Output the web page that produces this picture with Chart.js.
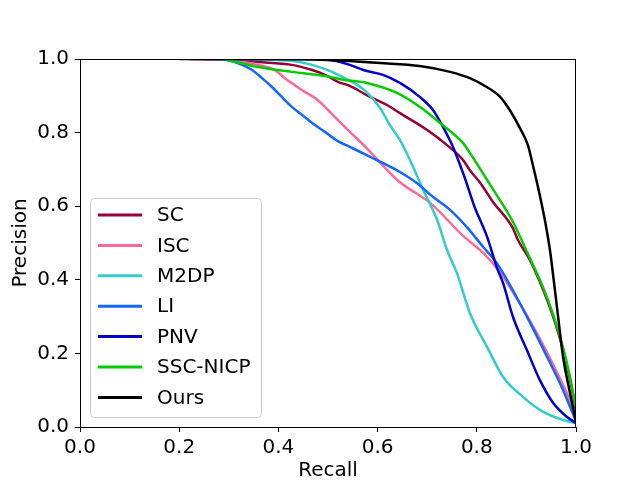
<!DOCTYPE html>
<html>
<head>
<meta charset="utf-8">
<script src="https://cdn.jsdelivr.net/npm/chart.js@4.4.0/dist/chart.umd.min.js"></script>
<style>
  html, body { margin: 0; padding: 0; background: #ffffff; }
  canvas { display: block; }
</style>
</head>
<body>
<canvas id="c" width="640" height="480"></canvas>
<script>
// ---- Data ----
const seriesNames = ['SC', 'ISC', 'M2DP', 'LI', 'PNV', 'SSC-NICP', 'Ours'];
const seriesColors = ['#990033', '#FF6699', '#33CCCC', '#1166FF', '#0000CC', '#00CC00', '#000000'];

const scRecall    = [0.22, 0.30, 0.359, 0.427, 0.468, 0.494, 0.52, 0.544, 0.578, 0.619, 0.645, 0.70, 0.74, 0.772, 0.786, 0.806, 0.833, 0.873, 0.883, 0.907, 0.934, 0.954, 0.974, 0.988, 1.0];
const scPrecision = [1.0, 0.998, 0.992, 0.984, 0.970, 0.957, 0.938, 0.927, 0.902, 0.875, 0.853, 0.807, 0.766, 0.726, 0.698, 0.665, 0.611, 0.540, 0.508, 0.454, 0.372, 0.299, 0.209, 0.128, 0.046];

const iscRecall    = [0.25, 0.30, 0.359, 0.393, 0.413, 0.433, 0.454, 0.474, 0.494, 0.514, 0.544, 0.578, 0.611, 0.645, 0.706, 0.772, 0.813, 0.847, 0.887, 0.927, 0.961, 0.988, 1.0];
const iscPrecision = [1.0, 0.997, 0.984, 0.970, 0.948, 0.929, 0.910, 0.894, 0.870, 0.842, 0.802, 0.758, 0.710, 0.665, 0.609, 0.520, 0.473, 0.420, 0.335, 0.240, 0.150, 0.070, 0.014];

const m2dpRecall    = [0.30, 0.40, 0.427, 0.468, 0.508, 0.534, 0.556, 0.578, 0.605, 0.625, 0.645, 0.665, 0.692, 0.72, 0.74, 0.76, 0.786, 0.821, 0.853, 0.893, 0.934, 0.974, 1.0];
const m2dpPrecision = [1.0, 0.997, 0.995, 0.984, 0.965, 0.948, 0.932, 0.910, 0.867, 0.820, 0.780, 0.726, 0.644, 0.563, 0.481, 0.418, 0.310, 0.217, 0.136, 0.082, 0.041, 0.019, 0.010];

const liRecall    = [0.25, 0.292, 0.327, 0.347, 0.367, 0.387, 0.407, 0.427, 0.448, 0.468, 0.494, 0.52, 0.544, 0.578, 0.611, 0.645, 0.679, 0.712, 0.746, 0.78, 0.813, 0.84, 0.861, 0.901, 0.942, 0.974, 1.0];
const liPrecision = [1.0, 0.998, 0.984, 0.970, 0.948, 0.924, 0.897, 0.870, 0.848, 0.826, 0.802, 0.777, 0.761, 0.739, 0.717, 0.693, 0.663, 0.625, 0.590, 0.543, 0.489, 0.446, 0.400, 0.300, 0.190, 0.100, 0.015];

const pnvRecall    = [0.30, 0.444, 0.504, 0.544, 0.571, 0.611, 0.645, 0.685, 0.712, 0.732, 0.752, 0.775, 0.795, 0.821, 0.84, 0.853, 0.873, 0.901, 0.927, 0.954, 0.982, 1.0];
const pnvPrecision = [1.0, 1.0, 0.997, 0.984, 0.970, 0.957, 0.935, 0.897, 0.861, 0.815, 0.761, 0.680, 0.600, 0.516, 0.435, 0.391, 0.299, 0.209, 0.128, 0.065, 0.027, 0.011];

const sscRecall    = [0.29, 0.359, 0.427, 0.494, 0.534, 0.578, 0.639, 0.685, 0.726, 0.772, 0.786, 0.827, 0.873, 0.901, 0.934, 0.954, 0.974, 0.988, 1.0];
const sscPrecision = [1.0, 0.978, 0.965, 0.954, 0.943, 0.935, 0.908, 0.870, 0.826, 0.772, 0.745, 0.658, 0.557, 0.476, 0.378, 0.305, 0.215, 0.135, 0.050];

const oursRecall    = [0.20, 0.40, 0.50, 0.605, 0.685, 0.746, 0.786, 0.82, 0.847, 0.867, 0.887, 0.903, 0.913, 0.927, 0.938, 0.948, 0.955, 0.963, 0.974, 0.988, 1.0];
const oursPrecision = [1.0, 1.0, 0.997, 0.989, 0.981, 0.965, 0.948, 0.924, 0.897, 0.860, 0.812, 0.766, 0.712, 0.630, 0.557, 0.476, 0.400, 0.310, 0.190, 0.092, 0.014];

const xTickLabels = ['0.0', '0.2', '0.4', '0.6', '0.8', '1.0'];
const yTickLabels = ['0.0', '0.2', '0.4', '0.6', '0.8', '1.0'];

// ---- Build datasets ----
const recalls = [scRecall, iscRecall, m2dpRecall, liRecall, pnvRecall, sscRecall, oursRecall];
const precisions = [scPrecision, iscPrecision, m2dpPrecision, liPrecision, pnvPrecision, sscPrecision, oursPrecision];

const FONT = "'DejaVu Sans', sans-serif";

const datasets = seriesNames.map((name, i) => ({
  label: name,
  data: recalls[i].map((r, j) => ({ x: r, y: precisions[i][j] })),
  borderColor: seriesColors[i],
  backgroundColor: seriesColors[i],
  borderWidth: 2.5,
  pointRadius: 0,
  cubicInterpolationMode: 'monotone',
  fill: false,
  clip: 0,
  order: seriesNames.length - i
}));

const framePlugin = {
  id: 'frameAndLegend',
  afterDatasetsDraw(chart) {
    const { ctx, chartArea: a } = chart;
    ctx.save();
    // axes frame
    ctx.strokeStyle = '#000';
    ctx.lineWidth = 1;
    ctx.strokeRect(Math.round(a.left) + 0.5, Math.round(a.top) + 0.5,
                   Math.round(a.right - a.left) - 1, Math.round(a.bottom - a.top));
    // legend box
    const bx = 90.5, by = 198.5, bw = 171, bh = 219, rad = 4;
    ctx.beginPath();
    ctx.moveTo(bx + rad, by);
    ctx.lineTo(bx + bw - rad, by);
    ctx.arcTo(bx + bw, by, bx + bw, by + rad, rad);
    ctx.lineTo(bx + bw, by + bh - rad);
    ctx.arcTo(bx + bw, by + bh, bx + bw - rad, by + bh, rad);
    ctx.lineTo(bx + rad, by + bh);
    ctx.arcTo(bx, by + bh, bx, by + bh - rad, rad);
    ctx.lineTo(bx, by + rad);
    ctx.arcTo(bx, by, bx + rad, by, rad);
    ctx.closePath();
    ctx.fillStyle = 'rgba(255,255,255,0.8)';
    ctx.fill();
    ctx.strokeStyle = '#cccccc';
    ctx.lineWidth = 1;
    ctx.stroke();
    // legend entries
    ctx.font = '20px ' + FONT;
    ctx.textBaseline = 'middle';
    ctx.textAlign = 'left';
    chart.data.datasets.forEach((ds, i) => {
      const y = 215 + i * 30.4;
      ctx.strokeStyle = ds.borderColor;
      ctx.lineWidth = 3;
      ctx.beginPath();
      ctx.moveTo(98, y);
      ctx.lineTo(142, y);
      ctx.stroke();
      ctx.fillStyle = '#000';
      ctx.fillText(ds.label, 157, y + 1);
    });
    ctx.restore();
  }
};

new Chart(document.getElementById('c'), {
  type: 'line',
  data: { datasets },
  options: {
    responsive: false,
    animation: false,
    devicePixelRatio: 1,
    layout: { padding: { left: 0, right: 64, top: 59, bottom: 0 } },
    plugins: { legend: { display: false }, tooltip: { enabled: false } },
    scales: {
      x: {
        type: 'linear',
        min: 0, max: 1,
        afterFit(scale) { scale.height = 53; },
        ticks: {
          stepSize: 0.2,
          padding: 4,
          color: '#000',
          font: { family: FONT, size: 20 },
          maxRotation: 0,
          callback: (v) => xTickLabels[Math.round(v / 0.2)]
        },
        grid: { drawOnChartArea: false, drawTicks: true, tickLength: 5, color: '#000' },
        border: { display: true, color: '#000', width: 1 },
        title: { display: true, text: 'Recall', color: '#000', font: { family: FONT, size: 20 }, padding: { top: 0, bottom: -3 } }
      },
      y: {
        type: 'linear',
        min: 0, max: 1,
        afterFit(scale) { scale.width = 80; },
        ticks: {
          stepSize: 0.2,
          padding: 6,
          color: '#000',
          font: { family: FONT, size: 20 },
          callback: (v) => yTickLabels[Math.round(v / 0.2)]
        },
        grid: { drawOnChartArea: false, drawTicks: true, tickLength: 5, color: '#000' },
        border: { display: true, color: '#000', width: 1 },
        title: { display: true, text: 'Precision', color: '#000', font: { family: FONT, size: 20 }, padding: { top: 9, bottom: 0 } }
      }
    }
  },
  plugins: [framePlugin]
});
</script>
</body>
</html>
